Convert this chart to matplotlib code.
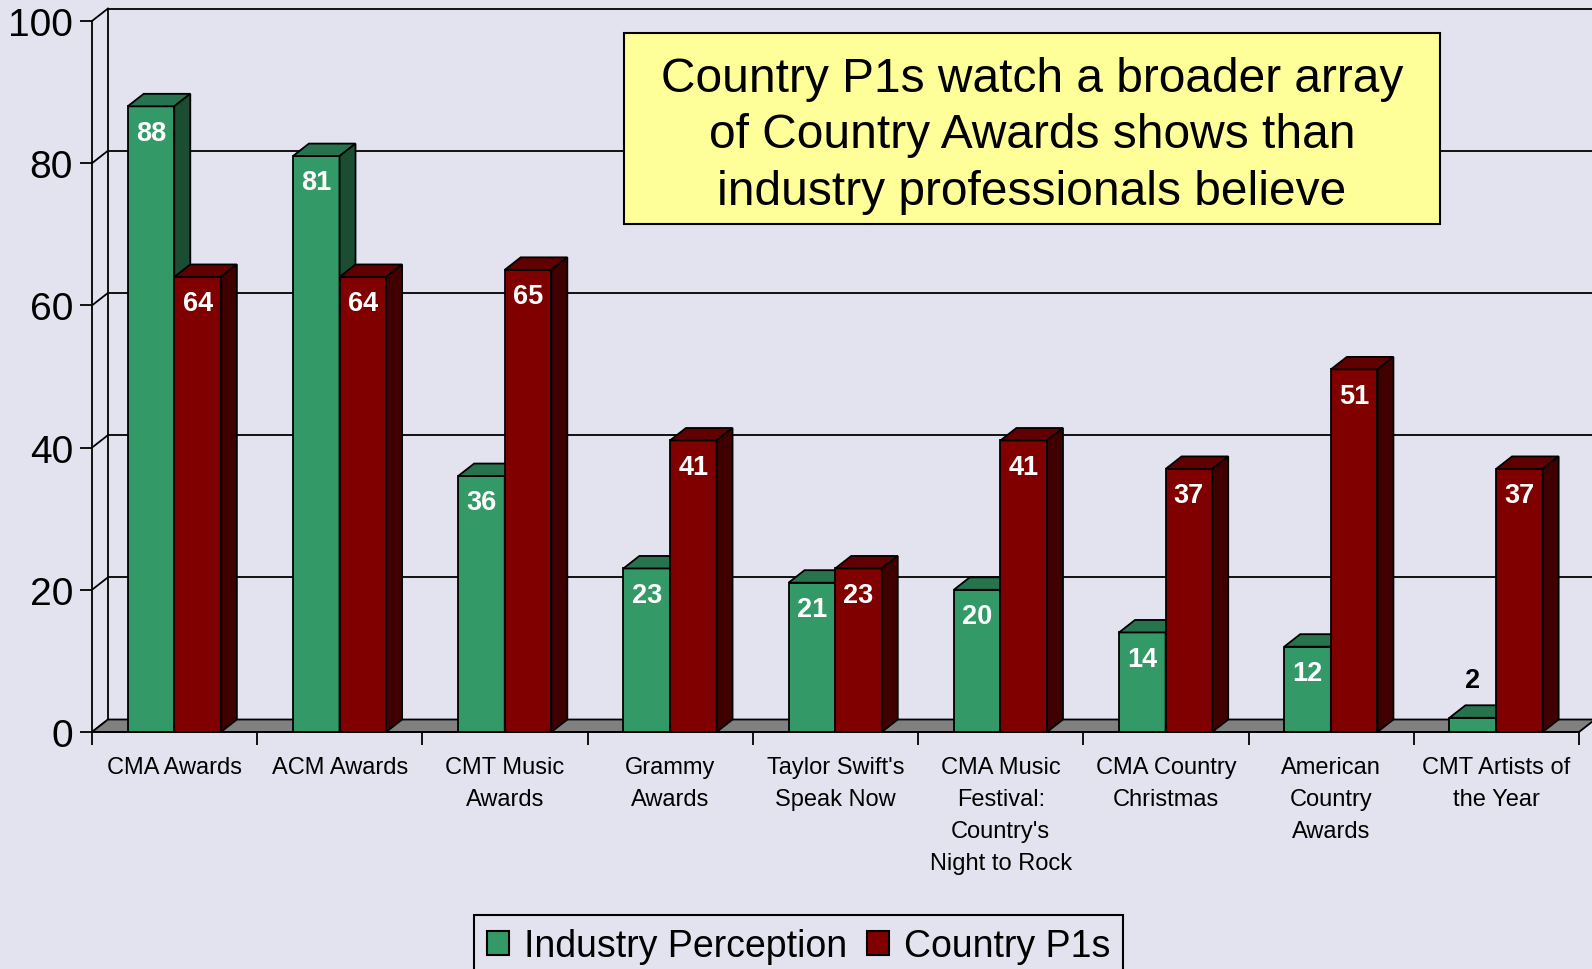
import matplotlib.pyplot as plt
from matplotlib.patches import Polygon, Rectangle, Patch
import numpy as np

# chart data
categories = ["CMA Awards", "ACM Awards", "CMT Music\nAwards", "Grammy\nAwards",
              "Taylor Swift's\nSpeak Now",
              "CMA Music\nFestival:\nCountry's\nNight to Rock",
              "CMA Country\nChristmas", "American\nCountry\nAwards",
              "CMT Artists of\nthe Year"]
industry = [88, 81, 36, 23, 21, 20, 14, 12, 2]
p1s = [64, 64, 65, 41, 23, 41, 37, 51, 37]
series_names = ["Industry Perception", "Country P1s"]
yticks = [0, 20, 40, 60, 80, 100]
note = ("Country P1s watch a broader array\nof Country Awards shows than\n"
        "industry professionals believe")

plt.rcParams['font.family'] = ['Liberation Sans', 'DejaVu Sans']

bg = "#e3e3f0"
green = ("#339966", "#26734d", "#1b4d33")   # front, top, side
red = ("#800000", "#600000", "#400000")

W, H = 1592, 970
fig = plt.figure(figsize=(W / 100, H / 100), dpi=100, facecolor=bg)
ax = fig.add_axes([92 / W, 1 - 733 / H, 1487 / W, 711 / H])
ncat = len(categories)
ax.set_xlim(0, ncat)
ax.set_ylim(0, 100)
ax.patch.set_visible(False)

# depth of the 3d look, in data units
DX = 16 / 1487 * ncat
DY = 12.5 / 711 * 100
lw = 1.3

# back wall gridlines and left wall diagonals
for v in yticks:
    ax.plot([DX, ncat + DX + 1], [v + DY, v + DY], color="k", lw=lw,
            clip_on=False, zorder=1)
    ax.plot([0, DX], [v, v + DY], color="k", lw=lw, clip_on=False, zorder=1)
ax.plot([DX, DX], [DY, 100 + DY], color="k", lw=lw, clip_on=False, zorder=1)

# floor
ax.add_patch(Polygon([(0, 0), (ncat, 0), (ncat + DX, DY), (DX, DY)],
                     closed=True, fc="#808080", ec="k", lw=lw,
                     clip_on=False, zorder=2))

x = np.arange(ncat)
bw = 0.282
g_left = x + 0.216
r_left = g_left + bw


def draw_series(lefts, vals, cols, z):
    ax.bar(lefts, vals, width=bw, align="edge", color=cols[0], edgecolor="k",
           lw=lw, zorder=z, clip_on=False)
    for l, v in zip(lefts, vals):
        r = l + bw
        ax.add_patch(Polygon([(l, v), (r, v), (r + DX, v + DY), (l + DX, v + DY)],
                             fc=cols[1], ec="k", lw=lw, zorder=z, clip_on=False))
        ax.add_patch(Polygon([(r, 0), (r + DX, DY), (r + DX, v + DY), (r, v)],
                             fc=cols[2], ec="k", lw=lw, zorder=z, clip_on=False))


for i in range(ncat):
    draw_series([g_left[i]], [industry[i]], green, 3 + 2 * i)
    draw_series([r_left[i]], [p1s[i]], red, 4 + 2 * i)

# value labels
for lefts, vals in ((g_left, industry), (r_left, p1s)):
    for l, v in zip(lefts, vals):
        if v < 5:
            ax.text(l + bw / 2, v + 5.3, str(v), ha="center", va="center",
                    fontsize=19.5, fontweight="bold", color="k", zorder=30)
        else:
            ax.text(l + bw / 2, v - 3.7, str(v), ha="center", va="center",
                    fontsize=19.5, fontweight="bold", color="white", zorder=30)

# axes
for s in ("top", "right"):
    ax.spines[s].set_visible(False)
ax.spines["left"].set_linewidth(lw)
ax.spines["bottom"].set_linewidth(lw)
ax.spines["left"].set_zorder(2.5)
ax.spines["bottom"].set_zorder(2.5)
ax.set_yticks(yticks)
ax.tick_params(axis="y", direction="out", length=8.6, width=lw,
               labelsize=28, pad=5)
ax.set_xticks(np.arange(ncat + 1))
ax.set_xticklabels([])
ax.set_xticks(x + 0.5, minor=True)
ax.set_xticklabels(categories, minor=True, fontsize=17, linespacing=1.6)
ax.tick_params(axis="x", which="major", direction="out", length=9.4, width=lw)
ax.tick_params(axis="x", which="minor", length=0, pad=17)

# note box
fig.add_artist(Rectangle((624 / W, 1 - 225 / H), 816 / W, 191 / H,
                         transform=fig.transFigure, fc="#ffff99", ec="k",
                         lw=1.5, zorder=40))
fig.text(1032 / W, 1 - 136 / H, note, ha="center", va="center", fontsize=34.5,
         linespacing=1.33, zorder=41)

# legend
handles = [Patch(fc=green[0], ec="k", lw=1.5), Patch(fc=red[0], ec="k", lw=1.5)]
leg = fig.legend(handles, series_names, loc="upper left",
                 bbox_to_anchor=(474 / W, 1 - 916 / H), ncol=2, fontsize=27,
                 frameon=True, fancybox=False, edgecolor="k", facecolor=bg,
                 framealpha=1, handlelength=0.57, handleheight=0.62,
                 handletextpad=0.4, columnspacing=0.55, borderpad=0.35,
                 borderaxespad=0)
leg.get_frame().set_linewidth(1.5)

fig.savefig("out.png", dpi=100, facecolor=bg)
